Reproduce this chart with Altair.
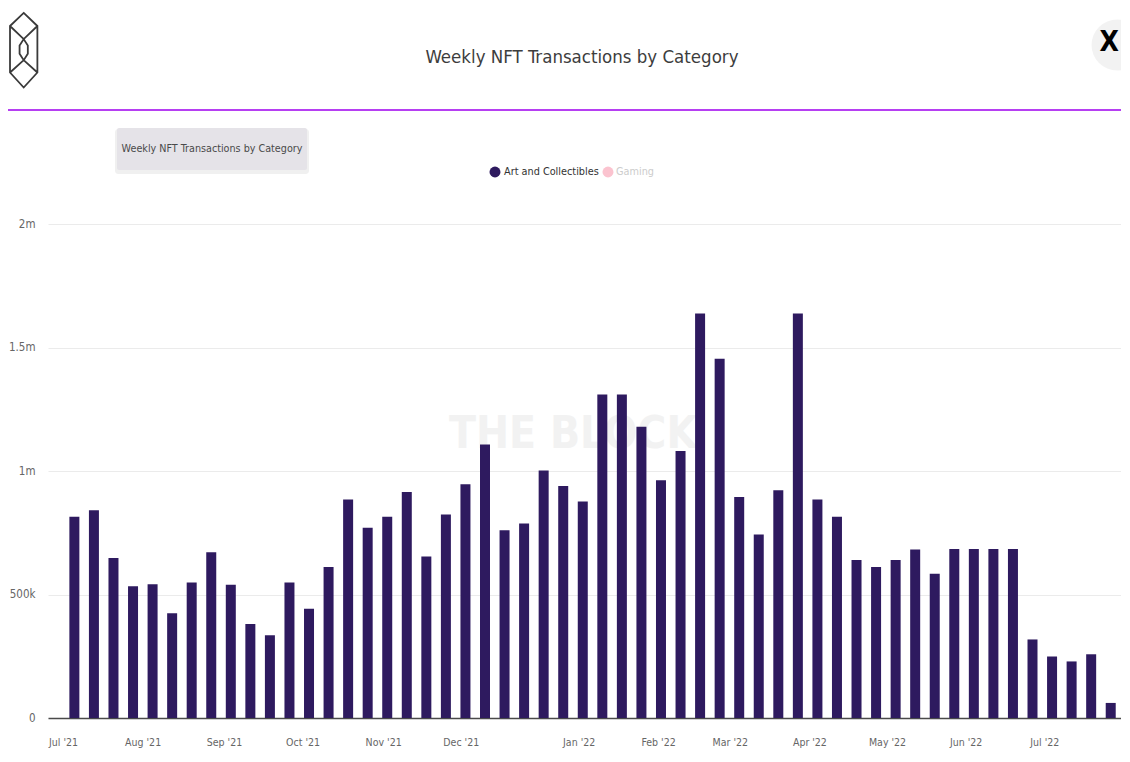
import json
import altair as alt
import pandas as pd

FONT = '"DejaVu Sans Condensed", "Liberation Sans Narrow", "Liberation Sans", sans-serif'

TITLE = "Weekly NFT Transactions by Category"
SERIES = ["Art and Collectibles", "Gaming"]
SERIES_COLORS = ["#2e1a5f", "#fbc3cf"]
WATERMARK = "THE BLOCK"

# one bar per week, in order
week_index = list(range(54))
transactions = [
    815000, 841000, 648000, 533000, 541000, 424000, 549000, 671000, 539000, 381000,
    335000, 549000, 442000, 611000, 885000, 770000, 815000, 915000, 654000, 824000,
    946000, 1107000, 760000, 787000, 1002000, 939000, 877000, 1310000, 1310000, 1179000,
    963000, 1081000, 1638000, 1454000, 895000, 743000, 922000, 1638000, 885000, 815000,
    640000, 611000, 640000, 682000, 584000, 684000, 684000, 684000, 684000, 318000,
    249000, 229000, 258000, 61000,
]

# month tick labels and where they sit along the week axis
month_labels = ["Jul '21", "Aug '21", "Sep '21", "Oct '21", "Nov '21", "Dec '21",
                "Jan '22", "Feb '22", "Mar '22", "Apr '22", "May '22", "Jun '22", "Jul '22"]
month_ticks = [-0.58, 3.49, 7.65, 11.67, 15.79, 19.76, 25.79, 29.85, 33.52, 37.59, 41.56, 45.58, 49.60]
y_ticks = [0, 500000, 1000000, 1500000, 2000000]

W, H = 1073, 494
PAD = {"left": 40, "top": 216, "right": 0, "bottom": 32}

bars_df = pd.DataFrame({"week": week_index, "transactions": transactions, "category": SERIES[0]})

x_label_expr = f"{json.dumps(month_labels)}[indexof({json.dumps(month_ticks)}, datum.value)]"
y_label_expr = ("datum.value == 0 ? '0' : datum.value >= 1000000 ? "
                "(datum.value / 1000000) + 'm' : (datum.value / 1000) + 'k'")

bars = alt.Chart(bars_df).mark_bar(size=10, color=SERIES_COLORS[0], opacity=1).encode(
    x=alt.X("week:Q",
            scale=alt.Scale(domain=[-1.093, 53.27], nice=False, zero=False),
            axis=alt.Axis(values=month_ticks, labelExpr=x_label_expr, title=None, grid=False,
                          ticks=False, labelPadding=19, labelFlush=False, labelOverlap=False,
                          domainColor="#4a4a4a", domainWidth=1.5, labelColor="#666666",
                          labelFontSize=10.5, labelFont=FONT)),
    y=alt.Y("transactions:Q",
            scale=alt.Scale(domain=[0, 2000000], nice=False),
            axis=alt.Axis(values=y_ticks, labelExpr=y_label_expr, title=None, domain=False,
                          ticks=False, grid=True, gridColor="#ebebeb", gridWidth=1,
                          labelPadding=13, labelColor="#666666", labelFontSize=11.5,
                          labelFont=FONT)),
    tooltip=[alt.Tooltip("category:N"), alt.Tooltip("transactions:Q", format=",")],
)


def text_layer(txt, x, y, size, color, align="center", weight="normal"):
    return alt.Chart(pd.DataFrame({"t": [txt]})).mark_text(
        align=align, baseline="middle", fontSize=size, color=color, font=FONT,
        fontWeight=weight).encode(x=alt.value(x), y=alt.value(y), text="t:N")


one = pd.DataFrame({"k": [0]})

watermark = text_layer(WATERMARK, 525, 211, 44, "#f2f2f2", weight="bold")
title = text_layer(TITLE, 534, -167, 18.5, "#3d3d3d")

header_rule = alt.Chart(one).mark_rule(color="#b63ff2", strokeWidth=2).encode(
    x=alt.value(-40), x2=alt.value(W), y=alt.value(-114))

logo_path = ("M0,-0.99 L0.365,-0.64 L0.365,0.6 L0,1 L-0.365,0.6 L-0.365,-0.64 Z "
             "M-0.365,-0.64 L0,-0.29 L0.365,-0.64 "
             "M-0.365,0.6 L0,0.27 L0.365,0.6 "
             "M0,-0.29 L0.11,-0.12 L0.11,0.1 L0,0.27 L-0.11,0.1 L-0.11,-0.12 Z")
logo = alt.Chart(one).mark_point(shape=logo_path, filled=False, stroke="#3a3a3a",
                                 strokeWidth=1.8, size=5625, opacity=1).encode(
    x=alt.value(-24.3), y=alt.value(-174))

close_shadow = alt.Chart(one).mark_point(shape="circle", filled=True, color="#000000",
                                         opacity=0.05, size=2600).encode(
    x=alt.value(W - 4), y=alt.value(-179))
close_x = text_layer("X", W - 2, -181, 28, "#000000", align="right", weight="bold")

box_shadow = alt.Chart(one).mark_rect(color="#000000", opacity=0.06, cornerRadius=3).encode(
    x=alt.value(67), x2=alt.value(261), y=alt.value(-95), y2=alt.value(-50))
box = alt.Chart(one).mark_rect(color="#e5e3e8", cornerRadius=2).encode(
    x=alt.value(69), x2=alt.value(259), y=alt.value(-96), y2=alt.value(-54))
box_text = text_layer(TITLE, 164, -75, 10.7, "#4a4a4a")

legend_df = pd.DataFrame({"series": SERIES, "px": [447, 560], "tx": [456, 568]})
legend_dots = alt.Chart(legend_df).mark_point(filled=True, shape="circle", size=120, opacity=1).encode(
    x=alt.X("px:Q", scale=None),
    y=alt.value(-52),
    color=alt.Color("series:N", scale=alt.Scale(domain=SERIES, range=SERIES_COLORS), legend=None),
)
legend_text = alt.Chart(legend_df).mark_text(align="left", baseline="middle", fontSize=10.8,
                                              font=FONT).encode(
    x=alt.X("tx:Q", scale=None),
    y=alt.value(-52),
    text="series:N",
    color=alt.Color("series:N", scale=alt.Scale(domain=SERIES, range=["#333333", "#cccccc"]),
                    legend=None),
)

chart = alt.layer(
    watermark, bars, title, header_rule, logo, close_shadow, close_x, box_shadow, box, box_text,
    legend_dots, legend_text,
).resolve_scale(color="independent").properties(
    width=W, height=H,
    padding=PAD,
    autosize=alt.AutoSizeParams(type="none"),
    background="white",
).configure_view(stroke=None)

chart.save("out.html", embed_options={"renderer": "svg", "actions": False})
